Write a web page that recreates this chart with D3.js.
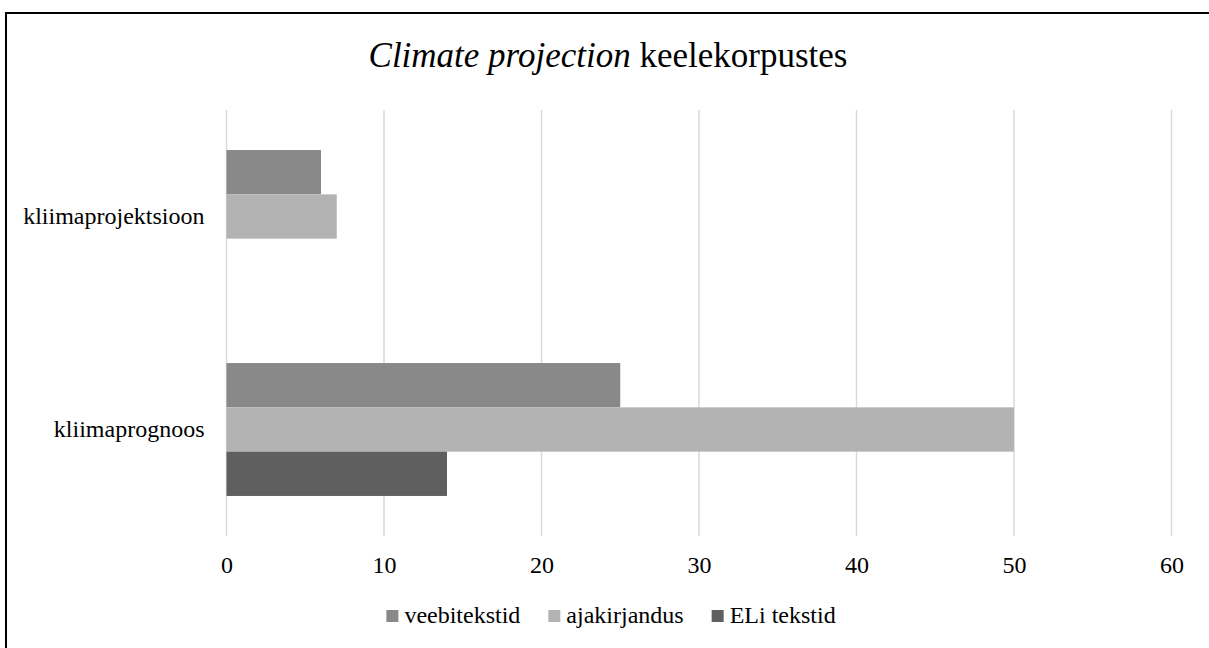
<!DOCTYPE html>
<html>
<head>
<meta charset="utf-8">
<script src="https://cdn.jsdelivr.net/npm/d3@7"></script>
<style>
  body { margin: 0; background: #fff; }
  text { font-family: "Liberation Serif", "Times New Roman", serif; fill: #000; }
</style>
</head>
<body>
<svg width="1209" height="648"></svg>
<script>
  const categories = ['kliimaprojektsioon', 'kliimaprognoos'];
  const series = ['veebitekstid', 'ajakirjandus', 'ELi tekstid'];
  const veebitekstid = [6, 25];
  const ajakirjandus = [7, 50];
  const eliTekstid = [0, 14];
  const xTicks = [0, 10, 20, 30, 40, 50, 60];

  const values = [veebitekstid, ajakirjandus, eliTekstid];
  const colors = ['#898989', '#b3b3b3', '#5f5f5f'];

  const svg = d3.select('svg');
  const width = +svg.attr('width');
  const height = +svg.attr('height');

  // frame
  svg.append('rect')
    .attr('x', 6).attr('y', 13)
    .attr('width', width + 20).attr('height', height + 20)
    .attr('fill', 'none')
    .attr('stroke', '#000')
    .attr('stroke-width', 2);

  // title
  const title = svg.append('text')
    .attr('x', 608)
    .attr('y', 67)
    .attr('text-anchor', 'middle')
    .style('font-size', '35px');
  title.append('tspan').style('font-style', 'italic').text('Climate projection');
  title.append('tspan').text(' keelekorpustes');

  const margin = { top: 110, left: 226.5, right: 1171.5, bottom: 536 };

  const xScale = d3.scaleLinear()
    .domain([0, 60])
    .range([margin.left, margin.right]);

  const yScale = d3.scaleBand()
    .domain(categories)
    .range([margin.top, margin.bottom])
    .paddingInner(0.376)
    .paddingOuter(0.188);

  const ySub = d3.scaleBand()
    .domain(series)
    .range([0, yScale.bandwidth()]);

  // gridlines
  svg.append('g')
    .selectAll('line')
    .data(xTicks)
    .join('line')
      .attr('x1', d => xScale(d))
      .attr('x2', d => xScale(d))
      .attr('y1', margin.top)
      .attr('y2', margin.bottom)
      .attr('stroke', '#d9d9d9')
      .attr('stroke-width', 1.5);

  // bars
  const groups = svg.append('g')
    .selectAll('g')
    .data(categories)
    .join('g')
      .attr('transform', d => `translate(0,${yScale(d)})`);

  groups.selectAll('rect')
    .data((c, i) => series.map((s, j) => ({ s, v: values[j][i], color: colors[j] })))
    .join('rect')
      .attr('x', xScale(0))
      .attr('y', d => ySub(d.s))
      .attr('width', d => xScale(d.v) - xScale(0))
      .attr('height', ySub.bandwidth())
      .attr('fill', d => d.color);

  // x axis labels
  const xAxis = d3.axisBottom(xScale)
    .tickValues(xTicks)
    .tickSize(0)
    .tickPadding(20);

  const xAxisG = svg.append('g')
    .attr('transform', `translate(0,${margin.bottom})`)
    .call(xAxis);
  xAxisG.select('.domain').remove();
  xAxisG.selectAll('text')
    .style('font-size', '24px')
    .style('font-family', '"Liberation Serif", serif')
    .attr('fill', '#000');

  // y axis labels
  const yAxis = d3.axisLeft(yScale)
    .tickSize(0)
    .tickPadding(22);
  const yAxisG = svg.append('g')
    .attr('transform', `translate(${margin.left},0)`)
    .call(yAxis);
  yAxisG.select('.domain').remove();
  yAxisG.selectAll('text')
    .style('font-size', '24px')
    .style('font-family', '"Liberation Serif", serif')
    .attr('fill', '#000');

  // legend
  const legend = svg.append('g');
  let cursor = 0;
  series.forEach((s, i) => {
    const item = legend.append('g').attr('transform', `translate(${cursor},0)`);
    item.append('rect')
      .attr('x', 0).attr('y', -13)
      .attr('width', 12).attr('height', 12)
      .attr('fill', colors[i]);
    const t = item.append('text')
      .attr('x', 18)
      .attr('y', 0)
      .style('font-size', '24px')
      .text(s);
    cursor += 18 + t.node().getComputedTextLength() + 28;
  });
  const legendWidth = cursor - 28;
  legend.attr('transform', `translate(${611 - legendWidth / 2},623)`);
</script>
</body>
</html>
